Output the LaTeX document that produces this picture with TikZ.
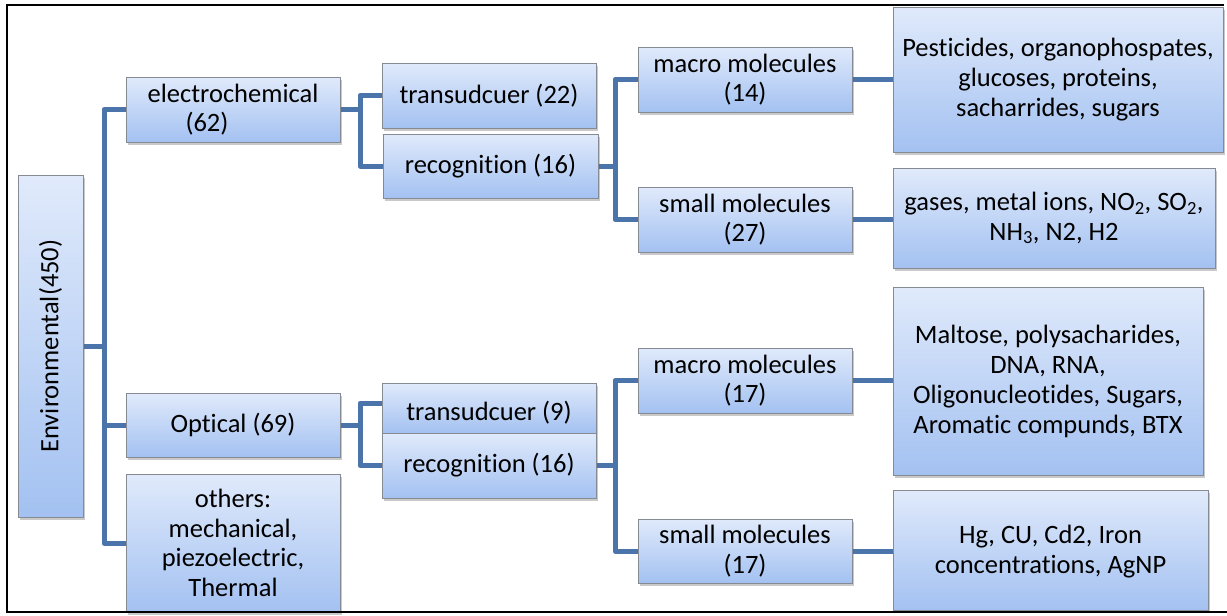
\documentclass[tikz,border=0pt]{standalone}
\usepackage{fontspec}
\setmainfont{Carlito}[Ligatures={NoCommon,NoDiscretionary,NoContextual}]
\usetikzlibrary{shadows,backgrounds}
\definecolor{conncol}{HTML}{4A74AA}
\definecolor{boxtop}{HTML}{E0EAFB}
\definecolor{boxbot}{HTML}{A3C1F1}
\definecolor{boxedge}{HTML}{868A92}
\tikzset{
  box/.style={draw=boxedge, line width=0.8pt, top color=boxtop, bottom color=boxbot,
    align=center, inner sep=2pt, font=\fontsize{26.5}{29.5}\selectfont,
    drop shadow={shadow xshift=2pt, shadow yshift=-3pt, opacity=0.35, fill=black!60}},
  conn/.style={draw=conncol, line width=5pt, line join=round}
}
\begin{document}
\begin{tikzpicture}[x=1pt,y=-1pt]
\useasboundingbox (0,0) rectangle (1227,616);
% nodes
\node[box, minimum width=65pt, minimum height=342pt] (env) at (50.5,346) {\rotatebox{90}{Environmental(450)}};
\node[box, minimum width=214pt, minimum height=65pt] (elec) at (233,109.5) {electrochemical\\(62)\hspace*{52pt}};
\node[box, minimum width=214pt, minimum height=64pt] (opt) at (233,425) {Optical (69)};
\node[box, minimum width=214pt, minimum height=138pt] (oth) at (233,543) {others:\\mechanical,\\piezoelectric,\\Thermal};
\node[box, minimum width=214pt, minimum height=65pt] (tr1) at (489,95.5) {transudcuer (22)};
\node[box, minimum width=215pt, minimum height=64pt] (rc1) at (490.5,166) {recognition (16)};
\node[box, minimum width=214pt, minimum height=50pt] (tr2) at (489,408) {\raisebox{-5pt}[\height][\depth]{transudcuer (9)}};
\node[box, minimum width=214pt, minimum height=65pt] (rc2) at (489,465.5) {recognition (16)};
\node[box, minimum width=214pt, minimum height=65pt] (ma1) at (745,79.5) {macro molecules\\(14)};
\node[box, minimum width=214pt, minimum height=65pt] (sm1) at (745,219.5) {small molecules\\(27)};
\node[box, minimum width=214pt, minimum height=65pt] (ma2) at (745,380.5) {macro molecules\\(17)};
\node[box, minimum width=214pt, minimum height=64pt] (sm2) at (745,551) {small molecules\\(17)};
\node[box, minimum width=330pt, minimum height=145pt, font=\fontsize{26.5}{30}\selectfont] (pes) at (1058,79.5) {Pesticides, organophospates,\\glucoses, proteins,\\sacharrides, sugars};
\node[box, minimum width=322pt, minimum height=100pt] (gas) at (1054,218) {gases, metal ions, NO\textsubscript{2}, SO\textsubscript{2},\\NH\textsubscript{3}, N2, H2};
\node[box, minimum width=310pt, minimum height=188pt, font=\fontsize{26.5}{30}\selectfont] (mal) at (1048,381) {Maltose, polysacharides,\\DNA, RNA,\\Oligonucleotides, Sugars,\\Aromatic compunds, BTX};
\node[box, minimum width=315pt, minimum height=120pt, font=\fontsize{26.5}{30}\selectfont] (hg) at (1050.5,550) {\raisebox{-2pt}[\height][\depth]{\begin{tabular}{@{}c@{}}Hg, CU, Cd2, Iron\\concentrations, AgNP\end{tabular}}};
% junctions
\coordinate (j0) at (104,346);
\coordinate (j1) at (360,109.5);
\coordinate (j2) at (615,166);
\coordinate (j3) at (360,425);
\coordinate (j4) at (615,465.5);
\begin{scope}[on background layer]
\fill[white] (0,0) rectangle (1227,616);
\draw[conn] (env.east) -- (j0);
\draw[conn] (elec.west) -| (j0);
\draw[conn] (opt.west) -| (j0);
\draw[conn] (oth.west) -| (j0);
\draw[conn] (elec.east) -- (j1);
\draw[conn] (tr1.west) -| (j1);
\draw[conn] (rc1.west) -| (j1);
\draw[conn] (rc1.east) -- (j2);
\draw[conn] (ma1.west) -| (j2);
\draw[conn] (sm1.west) -| (j2);
\draw[conn] (opt.east) -- (j3);
\draw[conn] ([yshift=5pt]tr2.west) -| (j3);
\draw[conn] (rc2.west) -| (j3);
\draw[conn] (rc2.east) -- (j4);
\draw[conn] (ma2.west) -| (j4);
\draw[conn] (sm2.west) -| (j4);
\draw[conn] (ma1.east) -- (ma1.east -| pes.west);
\draw[conn] (sm1.east) -- (sm1.east -| gas.west);
\draw[conn] (ma2.east) -- (ma2.east -| mal.west);
\draw[conn] (sm2.east) -- (sm2.east -| hg.west);
\end{scope}
% frame
\draw[line width=2pt, line cap=rect] (1223,5) -- (7,5) -- (7,612) -- (1227,612);
\end{tikzpicture}
\end{document}
